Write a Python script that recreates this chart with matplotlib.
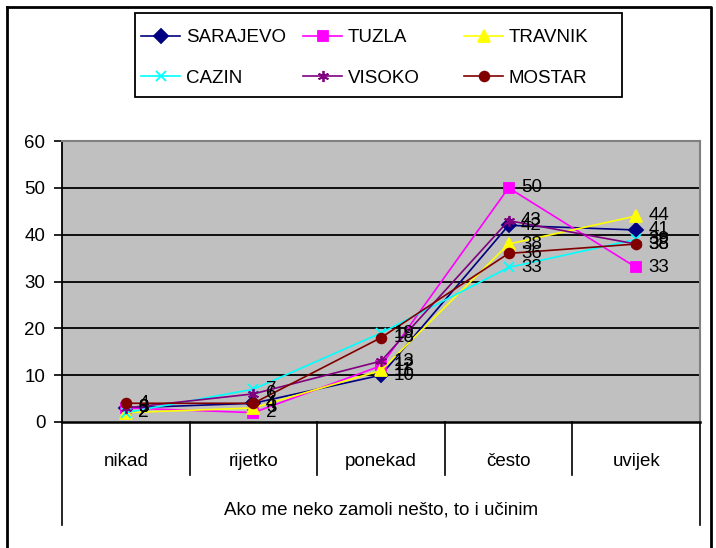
import matplotlib
matplotlib.use('Agg')
import matplotlib.pyplot as plt
import matplotlib.transforms as mtransforms
from matplotlib.lines import Line2D
from matplotlib.patches import Rectangle

plt.rcParams['font.family'] = ['Liberation Sans', 'DejaVu Sans']

# Data
categories = ['nikad', 'rijetko', 'ponekad', 'često', 'uvijek']
cities = ['SARAJEVO', 'TUZLA', 'TRAVNIK', 'CAZIN', 'VISOKO', 'MOSTAR']
sarajevo = [3, 4, 10, 42, 41]
tuzla = [3, 2, 12, 50, 33]
travnik = [2, 3, 11, 38, 44]
cazin = [2, 7, 19, 33, 39]
visoko = [3, 6, 13, 43, 38]
mostar = [4, 4, 18, 36, 38]
series = [sarajevo, tuzla, travnik, cazin, visoko, mostar]
x_title = 'Ako me neko zamoli nešto, to i učinim'

colors = ['#000080', '#FF00FF', '#FFFF00', '#00FFFF', '#800080', '#800000']
markers = ['D', 's', '^', 'x', (6, 2, 0), 'o']
msizes = [7, 7, 8, 7, 8, 7]

fs = 13.5
fig = plt.figure(figsize=(7.16, 5.48), dpi=100)
W, H = 716, 548
ax = fig.add_axes([62 / W, 1 - 422 / H, 638 / W, 281 / H])
ax.set_facecolor('#C0C0C0')

x = list(range(len(categories)))
handles = []
for name, vals, c, m, ms in zip(cities, series, colors, markers, msizes):
    ln, = ax.plot(x, vals, color=c, lw=1.2, marker=m, markersize=ms,
                  markeredgecolor=c, markerfacecolor=c, mew=1.3, label=name,
                  clip_on=False, zorder=3)
    handles.append(ln)
    for xi, v in zip(x, vals):
        ax.annotate(str(v), (xi, v), xytext=(9, 0), textcoords='offset points',
                    ha='left', va='center', fontsize=fs, color='black',
                    zorder=4, annotation_clip=False)

ax.set_xlim(-0.5, len(categories) - 0.5)
ax.set_ylim(0, 60)
ax.set_yticks(range(0, 61, 10))
ax.tick_params(axis='y', direction='out', length=6, width=1.2, pad=6,
               labelsize=fs)
ax.set_xticks([])
for yv in range(10, 61, 10):
    ax.axhline(yv, color='black', lw=1.3, zorder=1)

ax.spines['left'].set_color('black')
ax.spines['left'].set_linewidth(1.3)
ax.spines['bottom'].set_color('black')
ax.spines['bottom'].set_linewidth(1.8)
ax.spines['top'].set_color('#808080')
ax.spines['right'].set_color('#808080')
ax.spines['top'].set_linewidth(1.5)
ax.spines['right'].set_linewidth(1.5)

# category axis table
trans = mtransforms.blended_transform_factory(ax.transData, ax.transAxes)
for b in [0.5, 1.5, 2.5, 3.5]:
    ax.add_line(Line2D([b, b], [0, -53 / 281], transform=trans,
                       color='black', lw=1.2, clip_on=False))
for b in [-0.5, len(categories) - 0.5]:
    ax.add_line(Line2D([b, b], [0, -103 / 281], transform=trans,
                       color='black', lw=1.2, clip_on=False))
for xi, cat in zip(x, categories):
    ax.text(xi, -39 / 281, cat, transform=trans, ha='center', va='center',
            fontsize=fs)
ax.text(2, -88 / 281, x_title, transform=trans, ha='center', va='center',
        fontsize=fs)

# outer border
fig.add_artist(Line2D([7 / W, 711 / W, 711 / W], [1 - 7 / H, 1 - 7 / H, 0],
                      transform=fig.transFigure, color='black', lw=2))
fig.add_artist(Line2D([7 / W, 7 / W], [1 - 7 / H, 0],
                      transform=fig.transFigure, color='black', lw=2))

# legend: 3 equal-width columns, filled row by row
fig.add_artist(Rectangle((135 / W, 1 - 97 / H), 487 / W, 84 / H,
                         transform=fig.transFigure, fill=False,
                         edgecolor='black', lw=1.3))
col_x = [141, 303, 464]
for j, cx in enumerate(col_x):
    hs = [handles[j], handles[j + 3]]
    fig.legend(hs, [h.get_label() for h in hs], loc='upper left',
               bbox_to_anchor=(cx / W, 1 - 29 / H), frameon=False,
               fontsize=fs, handlelength=2.1, handletextpad=0.3,
               labelspacing=1.25, borderpad=0, borderaxespad=0)

plt.savefig('out.png', dpi=100)
